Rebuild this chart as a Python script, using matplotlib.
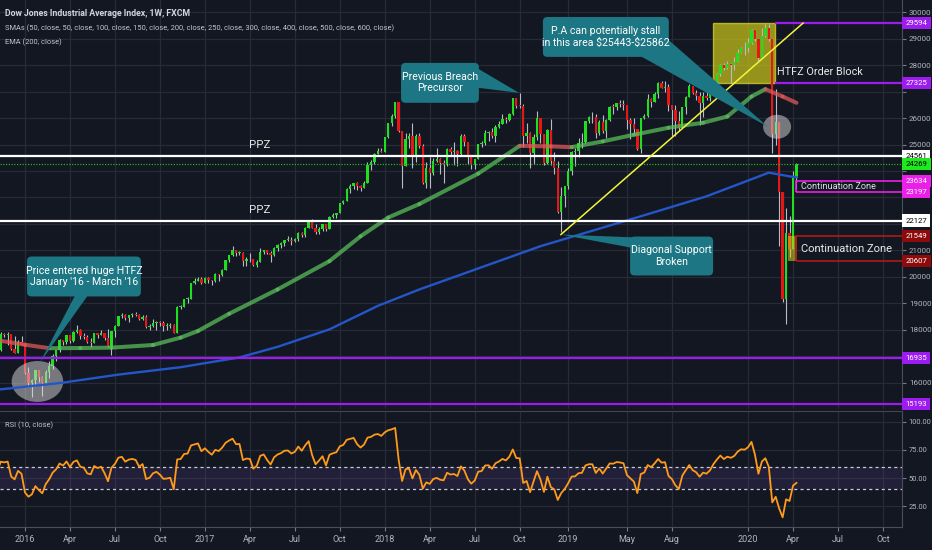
import matplotlib
matplotlib.use('Agg')
import matplotlib.pyplot as plt
from matplotlib.patches import Rectangle, Ellipse, FancyBboxPatch, Polygon
from matplotlib.collections import LineCollection
from matplotlib.transforms import blended_transform_factory
from matplotlib.ticker import FuncFormatter
import numpy as np
import pandas as pd

plt.rcParams['font.family'] = ['Liberation Sans Narrow', 'Roboto', 'DejaVu Sans']

BG = '#131722'
GRID = '#272b37'
AXIS_TEXT = '#b2b5be'
UP = '#1fe01f'
DOWN = '#ec1515'
WICK = '#b8bcc6'
TEAL = '#1c7683'
PURPLE = '#9c1cf0'
MAGENTA = '#ea1fe8'
DARK_RED = '#8e0b0b'

# weekly candles, first bar = week of 2015-11-09
FIRST_WEEK = '2015-11-09'

# closes before the first visible bar (only used to warm up the RSI)
warmup_close = [17373, 17477, 16460, 16643, 16102, 16433, 16385, 16315, 16472,
                17084, 17216, 17647, 17664, 17910]

close = [
    # 2015
    17245, 17824, 17798, 17848, 17265, 17128, 17552, 17425,
    # 2016
    16346, 15988, 16093, 16466, 16205, 15974, 16392, 16640, 17006, 17213,
    17602, 17516, 17793, 17577, 17897, 18003, 17774, 17740, 17535, 17500,
    17873, 17807, 17865, 17675, 17400, 17949, 18147, 18517, 18571, 18432,
    18544, 18577, 18553, 18395, 18492, 18086, 18124, 18262, 18308, 18240,
    18138, 18146, 18161, 17888, 18848, 18868, 19152, 19171, 19757, 19843,
    19934, 19763,
    # 2017
    19964, 19886, 19827, 20094, 20071, 20269, 20624, 20822, 21006, 20903,
    20915, 20597, 20663, 20656, 20453, 20548, 20941, 21007, 20897, 20805,
    21080, 21206, 21272, 21384, 21395, 21350, 21414, 21638, 21580, 21830,
    22092, 21858, 21675, 21814, 21988, 21798, 22268, 22350, 22405, 22774,
    22871, 23329, 23434, 23539, 23422, 23358, 23558, 24232, 24329, 24652,
    24754, 24719,
    # 2018
    25296, 25803, 26072, 26617, 25521, 24191, 25219, 25310, 24539, 25336,
    24947, 23533, 24103, 23933, 24360, 24463, 24311, 24263, 24831, 24715,
    24753, 24635, 25317, 25090, 24581, 24271, 24456, 25019, 25058, 25451,
    25463, 25313, 25669, 25790, 25965, 25917, 26155, 26744, 26458, 26447,
    25340, 25444, 24688, 25271, 25989, 25413, 24286, 25538, 24389, 24101,
    22445, 23062, 23433,
    # 2019
    23996, 24706, 24737, 25064, 25106, 25883, 26031, 26026, 25450, 25849,
    25502, 25929, 26425, 26412, 26560, 26543, 26505, 25942, 25764, 25586,
    24815, 25984, 26090, 26719, 26600, 26922, 27332, 27154, 27192, 26485,
    26287, 25886, 25629, 26403, 26797, 27220, 26935, 26820, 26573, 26817,
    26770, 26958, 27347, 27681, 28005, 27876, 28051, 28015, 28135, 28455,
    28645, 28634,
    # 2020
    28823, 29348, 28990, 28256, 29103, 29398, 28992, 25409, 25865, 23186,
    19174, 21637, 21053, 23719, 24269,
]

high = [
    17910, 17915, 17860, 17900, 17840, 17750, 17600, 17750,
    17405, 16590, 16125, 16490, 16480, 16240, 16480, 16800, 17080, 17230,
    17630, 17620, 17800, 17800, 17940, 18170, 18040, 17890, 17800, 17700,
    17890, 17890, 18000, 17860, 18020, 17960, 18160, 18530, 18620, 18600,
    18560, 18640, 18670, 18580, 18540, 18540, 18210, 18390, 18340, 18330,
    18320, 18250, 18250, 18220, 18880, 18935, 19165, 19230, 19760, 19950,
    19990, 19980,
    19999, 19975, 19860, 20125, 20080, 20300, 20640, 20830, 21170, 21000,
    20990, 20940, 20740, 20890, 20680, 20630, 21070, 21030, 21010, 20980,
    21110, 21230, 21305, 21390, 21530, 21500, 21480, 21680, 21680, 21880,
    22100, 22180, 22010, 21890, 22010, 21990, 22290, 22420, 22420, 22800,
    22900, 23360, 23490, 23560, 23600, 23460, 23620, 24330, 24400, 24670,
    24880, 24850,
    25300, 25810, 26150, 26620, 26610, 25520, 25430, 25430, 25800, 25400,
    25450, 25020, 24320, 24540, 24480, 24860, 24500, 24410, 24870, 24900,
    25090, 24810, 25400, 25400, 25090, 24600, 24470, 25030, 25130, 25530,
    25500, 25630, 25750, 25900, 26170, 26050, 26180, 26770, 26600, 26950,
    26550, 25800, 25480, 25400, 26280, 26000, 25390, 25590, 25980, 24700,
    24380, 23380, 23450,
    24100, 24770, 24860, 25250, 25450, 25890, 26060, 26240, 26150, 25930,
    26110, 25950, 26440, 26520, 26560, 26700, 26700, 26400, 25990, 26000,
    25500, 26000, 26170, 26910, 26760, 26970, 27350, 27400, 27400, 27300,
    26500, 26480, 26270, 26410, 26850, 27300, 27200, 27080, 26990, 26970,
    27050, 27050, 27350, 27700, 28030, 28090, 28175, 28070, 28290, 28600,
    28700, 28870,
    29010, 29370, 29370, 29000, 29410, 29570, 29570, 28990, 27100, 25650,
    23190, 22600, 22300, 24010, 24310,
]

low = [
    17240, 17210, 17730, 17420, 17245, 17100, 17125, 17420,
    16315, 15840, 15450, 15880, 16010, 15500, 15980, 16160, 16500, 16820,
    17150, 17420, 17450, 17480, 17550, 17870, 17650, 17630, 17500, 17330,
    17490, 17670, 17780, 17600, 17350, 17060, 17710, 18150, 18450, 18360,
    18300, 18470, 18500, 18350, 18370, 18080, 17990, 18110, 17990, 18130,
    17960, 17990, 18050, 17880, 17880, 18780, 18880, 18990, 19190, 19720,
    19850, 19720,
    19760, 19780, 19680, 19800, 19830, 20010, 20260, 20560, 20770, 20780,
    20810, 20410, 20410, 20540, 20400, 20380, 20590, 20860, 20850, 20550,
    20800, 20960, 21090, 21180, 21340, 21200, 21300, 21360, 21510, 21500,
    21830, 21840, 21600, 21620, 21720, 21720, 21800, 22220, 22230, 22400,
    22750, 22870, 23170, 23300, 23270, 23240, 23340, 23550, 24050, 24270,
    24650, 24700,
    24700, 25230, 25700, 26000, 25490, 23360, 24200, 24880, 24120, 24340,
    24880, 23500, 23340, 23350, 23850, 24350, 23880, 23530, 24200, 24600,
    24230, 24180, 24600, 24950, 24270, 24080, 24070, 24460, 24920, 25000,
    25130, 25260, 25100, 25620, 25760, 25800, 25880, 26100, 26380, 26370,
    24900, 25040, 24120, 24270, 25160, 25070, 24230, 24280, 24240, 23880,
    22400, 21710, 22640,
    23300, 23840, 24190, 24530, 24880, 25050, 25830, 25800, 25250, 25370,
    25450, 25250, 25900, 26140, 26320, 26410, 26300, 25600, 25220, 25400,
    24780, 24680, 25950, 26030, 26430, 26660, 26760, 27120, 27000, 26250,
    25340, 25340, 25500, 25700, 26150, 26800, 26900, 26680, 25750, 26040,
    26680, 26660, 26900, 27320, 27580, 27800, 27850, 27320, 27830, 28150,
    28460, 28370,
    28500, 28800, 28900, 28170, 28320, 29060, 28900, 24680, 25000, 21150,
    19050, 18210, 20730, 21460, 23300,
]

# moving averages
ma_fast_dates = ['2015-11-09', '2016-01-04', '2016-02-22', '2016-04-25', '2016-06-27',
                 '2016-09-19', '2016-11-14', '2016-12-19', '2017-02-20', '2017-05-29',
                 '2017-09-11', '2017-11-13', '2018-01-08', '2018-03-12', '2018-07-09',
                 '2018-10-01', '2018-12-03', '2019-01-14', '2019-03-18', '2019-05-20',
                 '2019-07-29', '2019-10-07', '2019-11-25', '2020-01-13', '2020-02-10',
                 '2020-03-16', '2020-04-13']
ma_fast_values = [17600, 17430, 17300, 17305, 17320, 17420, 17700, 17950, 18600, 19520,
                  20590, 21530, 22240, 22750, 23900, 24950, 24930, 24900, 25117, 25370,
                  25634, 25823, 26060, 26815, 27094, 26815, 26577]

ma_slow_dates = ['2015-11-09', '2016-03-14', '2016-07-11', '2016-11-14', '2017-03-13',
                 '2017-05-29', '2017-09-11', '2017-12-18', '2018-03-12', '2018-11-12',
                 '2019-06-03', '2019-10-14', '2020-02-17', '2020-03-30', '2020-04-13']
ma_slow_values = [15730, 15980, 16300, 16580, 16950, 17350, 18011, 18900, 19520, 21155,
                  22287, 23041, 23936, 23796, 23760]

tick_months = ['2016-01', '2016-04', '2016-07', '2016-10', '2017-01', '2017-04', '2017-07',
               '2017-10', '2018-01', '2018-04', '2018-07', '2018-10', '2019-01', '2019-05',
               '2019-08', '2020-01', '2020-04', '2020-07', '2020-10']
tick_labels = ['2016', 'Apr', 'Jul', 'Oct', '2017', 'Apr', 'Jul', 'Oct', '2018', 'Apr',
               'Jul', 'Oct', '2019', 'May', 'Aug', '2020', 'Apr', 'Jul', 'Oct']

# drawn levels: (price, box colour, text colour)
price_tags = [(29594, PURPLE, 'white'), (27325, PURPLE, 'white'), (24561, 'white', 'black'),
              (24269, '#1ee81e', 'black'), (23634, MAGENTA, 'white'), (23197, MAGENTA, 'white'),
              (22127, 'white', 'black'), (21549, DARK_RED, 'white'), (20607, DARK_RED, 'white'),
              (16935, PURPLE, 'white'), (15193, PURPLE, 'white')]


def wk(date):
    return (pd.Timestamp(date) - pd.Timestamp(FIRST_WEEK)).days / 7.0


def rsi(values, length=10):
    s = pd.Series(values, dtype=float)
    d = s.diff()
    up = d.clip(lower=0).ewm(alpha=1.0 / length, adjust=False).mean()
    dn = (-d.clip(upper=0)).ewm(alpha=1.0 / length, adjust=False).mean()
    return (100 - 100 / (1 + up / dn)).values


W, H = 932, 550
fig = plt.figure(figsize=(W / 100, H / 100), dpi=100, facecolor=BG)
ax = fig.add_axes([0, (H - 409) / H, 902 / W, 409 / H], facecolor=BG)
ax2 = fig.add_axes([0, 23 / H, 902 / W, 116 / H], facecolor=BG)

XMIN, XMAX = 0.78, 261.5
YMIN, YMAX = 15028, 30464
ax.set_xlim(XMIN, XMAX)
ax.set_ylim(YMIN, YMAX)
ax2.set_xlim(XMIN, XMAX)
ax2.set_ylim(6.6, 109.5)

# aspect between price units and week units on screen (for rounded boxes)
ASPECT = ((YMAX - YMIN) / 409) / ((XMAX - XMIN) / 902)

# grid + axes styling
xt = [np.ceil(wk(m + '-01')) for m in tick_months]
for a in (ax, ax2):
    a.set_xticks(xt)
    a.grid(True, color=GRID, lw=0.9)
    a.set_axisbelow(True)
    a.yaxis.tick_right()
    for s in a.spines.values():
        s.set_visible(False)
    a.spines['right'].set_visible(True)
    a.spines['right'].set_color('#4a4e5a')
    a.tick_params(axis='y', colors='#787b86', labelcolor=AXIS_TEXT, labelsize=5.8, length=3, pad=2)
ax.set_xticklabels([])
ax.tick_params(axis='x', length=0)
ax.set_yticks(range(15000, 30001, 1000))

# price labels hidden where a level tag sits on top of them
tag_prices = [p for p, _, _ in price_tags]
ax.yaxis.set_major_formatter(FuncFormatter(
    lambda v, pos: '' if min(abs(v - p) for p in tag_prices) < 350 else '%d' % v))

ax2.set_xticklabels(tick_labels)
ax2.tick_params(axis='x', colors='#787b86', labelcolor=AXIS_TEXT, labelsize=6.5, length=3, pad=3)
ax2.tick_params(axis='y', labelsize=5.4, pad=1.5)
ax2.spines['bottom'].set_visible(True)
ax2.spines['bottom'].set_color('#4a4e5a')
ax2.spines['top'].set_visible(True)
ax2.spines['top'].set_color('#434651')
ax2.set_yticks([25, 50, 75, 100])
ax2.set_yticklabels(['25.00', '50.00', '75.00', '100.00'])

# candles
n = len(close)
xs = np.arange(n)
opens = np.array([warmup_close[-1]] + close[:-1], dtype=float)
closes = np.array(close, dtype=float)
hi = np.maximum(np.array(high, dtype=float), np.maximum(opens, closes))
lo = np.minimum(np.array(low, dtype=float), np.minimum(opens, closes))
colors = [UP if c >= o else DOWN for o, c in zip(opens, closes)]
ax.vlines(xs, lo, hi, color=WICK, lw=0.8, zorder=2)
body = np.maximum(np.abs(closes - opens), 30)
ax.bar(xs, body, bottom=np.minimum(opens, closes), width=0.68, color=colors, zorder=3)

# moving averages
fx = [wk(d) for d in ma_fast_dates]
pts = np.column_stack([fx, ma_fast_values])
segs = np.stack([pts[:-1], pts[1:]], axis=1)
seg_cols = ['#5cc25c' if b[1] >= a[1] else '#e45a5a' for a, b in zip(pts[:-1], pts[1:])]
ax.add_collection(LineCollection(segs, colors=seg_cols, linewidths=2.9, alpha=0.72,
                                 capstyle='round', joinstyle='round', zorder=4))
ax.plot([wk(d) for d in ma_slow_dates], ma_slow_values, color='#2456c8', lw=1.7, zorder=4)

# horizontal levels
ax.axhline(24561, color='white', lw=1.6, zorder=5)
ax.axhline(22127, color='white', lw=1.6, zorder=5)
ax.axhline(24269, color='#1fb01f', lw=0.9, ls=(0, (1, 1.2)), zorder=5)
ax.axhline(16935, color=PURPLE, lw=1.6, zorder=5)
ax.axhline(15193, color=PURPLE, lw=1.6, zorder=5)
ax.hlines([29594, 27325], 224.8, XMAX + 5, color=PURPLE, lw=1.6, zorder=5)

# HTFZ order block + zones
ax.add_patch(Rectangle((206.8, 27325), 224.8 - 206.8, 29594 - 27325, fc='#c8c41a', alpha=0.72,
                       ec='#dedb2a', lw=1, zorder=1.5))
ax.add_patch(Rectangle((230.9, 23197), 40, 23634 - 23197, fill=False, ec=MAGENTA, lw=1.2, zorder=5))
ax.add_patch(Rectangle((231.0, 20607), 40, 21549 - 20607, fill=False, ec='#b01818', lw=1.2, zorder=5))
ax.add_patch(Rectangle((228.5, 20607), 2.6, 21549 - 20607, fc='#d6d21c', alpha=0.55, ec='none', zorder=3.5))

# diagonal support
ax.plot([162.9, 232.9], [21595, 29590], color='#f4f43a', lw=1.1, zorder=5)

# highlight ellipses
ax.add_patch(Ellipse((11.6, 16040), 14.9, 1547, fc='#d9d9d9', alpha=0.5, ec='none', zorder=3.6))
ax.add_patch(Ellipse((225.4, 25671), 8.1, 906, fc='#d9d9d9', alpha=0.5, ec='none', zorder=3.6))


def callout(box, text, tail, fs=7.6):
    x0, x1, y0, y1 = box
    ax.add_patch(FancyBboxPatch((x0, y0), x1 - x0, y1 - y0,
                                boxstyle='round,pad=0,rounding_size=1.3',
                                mutation_aspect=ASPECT, fc=TEAL, ec='none', zorder=8))
    ax.add_patch(Polygon(tail, closed=True, fc=TEAL, ec='none', zorder=8))
    ax.text((x0 + x1) / 2, (y0 + y1) / 2, text, ha='center', va='center', color='white',
            fontsize=fs, linespacing=1.15, zorder=9)


callout((8.6, 41.5, 19255, 20765), "Price entered huge HTFZ\nJanuary '16 - March '16",
        [(22.5, 19300), (26.2, 19300), (12.3, 16750)])
callout((116.7, 139.2, 26577, 28086), 'Previous Breach\nPrecursor',
        [(136.6, 28050), (139.1, 27143), (150.8, 26954)])
callout((157.7, 194.1, 28313, 29822), 'P.A can potentially stall\nin this area \\$25443-\\$25862',
        [(185.8, 28350), (194.0, 28954), (222.75, 25671)])
callout((182.9, 206.9, 20048, 21520), 'Diagonal Support\nBroken',
        [(185.8, 21480), (183.0, 21105), (162.9, 21595)])

# chart text
ax.text(225.4, 27758, 'HTFZ Order Block', color='#e8e8e8', fontsize=7.8, va='center', zorder=9)
ax.text(232.3, 23415, 'Continuation Zone', color='#e0e0e0', fontsize=6.6, va='center', zorder=9)
ax.text(232.3, 21067, 'Continuation Zone', color='#e8e8e8', fontsize=8.0, va='center', zorder=9)
ax.text(75.9, 24992, 'PPZ', color='#e8e8e8', fontsize=8.2, ha='center', va='center', zorder=9)
ax.text(75.9, 22539, 'PPZ', color='#e8e8e8', fontsize=8.2, ha='center', va='center', zorder=9)

# price tags on the right scale
trans = blended_transform_factory(ax.transAxes, ax.transData)
for price, fc, tc in price_tags:
    ax.text(1.004, price, str(price), transform=trans, ha='left', va='center', fontsize=5.6,
            color=tc, bbox=dict(boxstyle='square,pad=0.4', fc=fc, ec='none'),
            clip_on=False, zorder=10)

# RSI pane
r = rsi(warmup_close + close)[len(warmup_close):]
ax2.axhspan(40, 60, color='#7e57c2', alpha=0.14, lw=0)
ax2.axhline(60, color='#c9cbd2', lw=0.9, ls=(0, (2.5, 2.5)))
ax2.axhline(40, color='#c9cbd2', lw=0.9, ls=(0, (2.5, 2.5)))
ax2.plot(xs, r, color='#ff9a1a', lw=1.3, zorder=4)

# header texts
fig.text(5 / W, 1 - 14 / H, 'Dow Jones Industrial Average Index, 1W, FXCM', color='#d1d4dc',
         fontsize=6.3, fontweight='bold', va='center')
fig.text(5 / W, 1 - 28 / H, 'SMAs (50, close, 50, close, 100, close, 150, close, 200, close, '
         '250, close, 300, close, 400, close, 500, close, 600, close)', color='#c4c7cf',
         fontsize=5.4, va='center')
fig.text(5 / W, 1 - 42 / H, 'EMA (200, close)', color='#c4c7cf', fontsize=5.4, va='center')
fig.text(5 / W, 1 - 425 / H, 'RSI (10, close)', color='#c4c7cf', fontsize=5.4, va='center')

fig.savefig('out.png', dpi=100, facecolor=BG)
